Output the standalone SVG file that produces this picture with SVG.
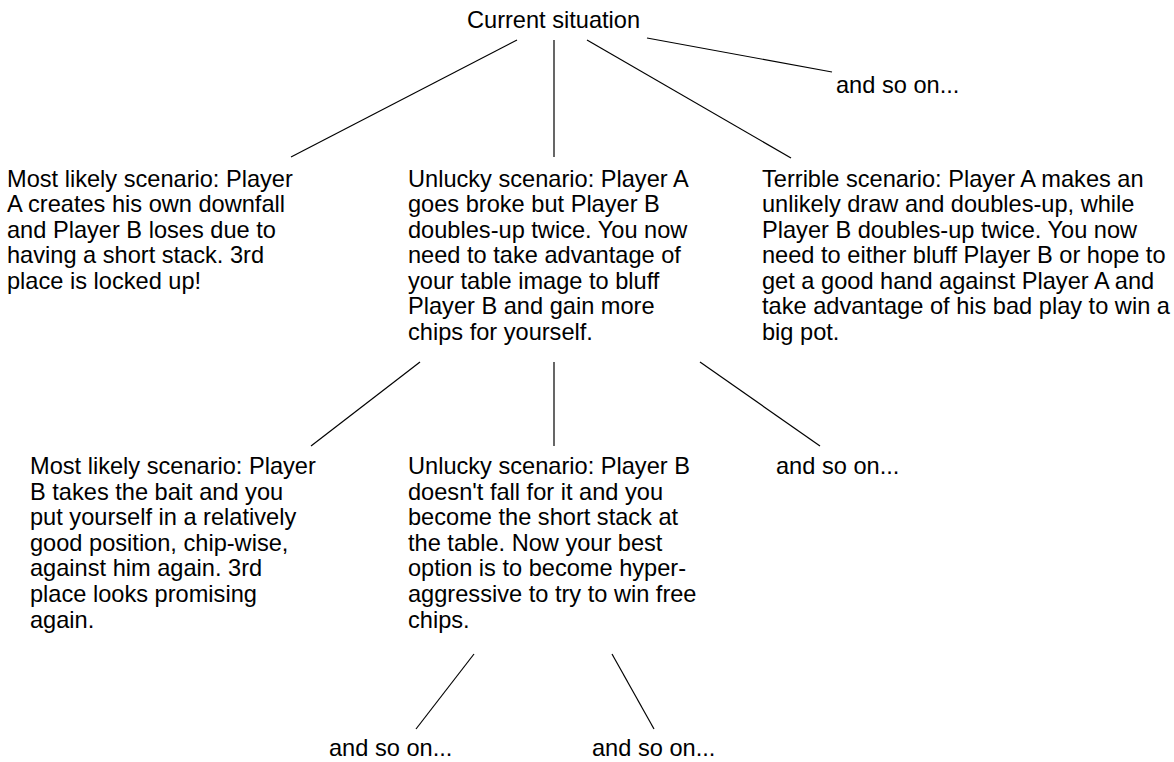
<svg xmlns="http://www.w3.org/2000/svg" width="1174" height="762" viewBox="0 0 1174 762">
<style>
text{font-family:"Liberation Sans",Arial,Helvetica,sans-serif;font-size:23.6px;fill:#000}
.c line{stroke:#000;stroke-width:1.2}
</style>
<rect width="1174" height="762" fill="#fff"/>
<g class="c" id="connectors">
<line x1="517" y1="40" x2="291" y2="157"/>
<line x1="554" y1="40" x2="554" y2="157"/>
<line x1="587" y1="40" x2="791" y2="158"/>
<line x1="647" y1="38" x2="832" y2="72"/>
<line x1="420" y1="362" x2="311" y2="446"/>
<line x1="554" y1="362" x2="554" y2="446"/>
<line x1="700" y1="362" x2="820" y2="446"/>
<line x1="474" y1="654" x2="416" y2="729"/>
<line x1="612" y1="654" x2="654" y2="729"/>
</g>
<g id="root"><text x="467" y="28">Current situation</text></g>
<g id="etc1"><text x="836" y="93">and so on...</text></g>
<g id="likely1"><text x="7" y="186.5"><tspan x="7">Most likely scenario: Player</tspan><tspan x="7" dy="25.5">A creates his own downfall</tspan><tspan x="7" dy="25.5">and Player B loses due to</tspan><tspan x="7" dy="25.5">having a short stack. 3rd</tspan><tspan x="7" dy="25.5">place is locked up!</tspan></text></g>
<g id="unlucky1"><text x="408" y="186.5"><tspan x="408">Unlucky scenario: Player A</tspan><tspan x="408" dy="25.5">goes broke but Player B</tspan><tspan x="408" dy="25.5">doubles-up twice. You now</tspan><tspan x="408" dy="25.5">need to take advantage of</tspan><tspan x="408" dy="25.5">your table image to bluff</tspan><tspan x="408" dy="25.5">Player B and gain more</tspan><tspan x="408" dy="25.5">chips for yourself.</tspan></text></g>
<g id="terrible1"><text x="762" y="186.5"><tspan x="762">Terrible scenario: Player A makes an</tspan><tspan x="762" dy="25.5">unlikely draw and doubles-up, while</tspan><tspan x="762" dy="25.5">Player B doubles-up twice. You now</tspan><tspan x="762" dy="25.5">need to either bluff Player B or hope to</tspan><tspan x="762" dy="25.5">get a good hand against Player A and</tspan><tspan x="762" dy="25.5">take advantage of his bad play to win a</tspan><tspan x="762" dy="25.5">big pot.</tspan></text></g>
<g id="likely2"><text x="30" y="474"><tspan x="30">Most likely scenario: Player</tspan><tspan x="30" dy="25.6">B takes the bait and you</tspan><tspan x="30" dy="25.6">put yourself in a relatively</tspan><tspan x="30" dy="25.6">good position, chip-wise,</tspan><tspan x="30" dy="25.6">against him again. 3rd</tspan><tspan x="30" dy="25.6">place looks promising</tspan><tspan x="30" dy="25.6">again.</tspan></text></g>
<g id="unlucky2"><text x="408" y="474"><tspan x="408">Unlucky scenario: Player B</tspan><tspan x="408" dy="25.6">doesn't fall for it and you</tspan><tspan x="408" dy="25.6">become the short stack at</tspan><tspan x="408" dy="25.6">the table. Now your best</tspan><tspan x="408" dy="25.6">option is to become hyper-</tspan><tspan x="408" dy="25.6">aggressive to try to win free</tspan><tspan x="408" dy="25.6">chips.</tspan></text></g>
<g id="etc2"><text x="776" y="474">and so on...</text></g>
<g id="etc3"><text x="329" y="756">and so on...</text></g>
<g id="etc4"><text x="592" y="756">and so on...</text></g>
</svg>
